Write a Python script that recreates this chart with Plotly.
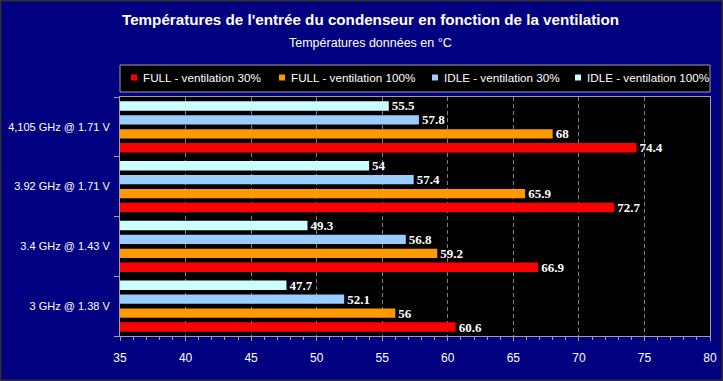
import plotly.graph_objects as go

categories = ["3 GHz @ 1.38 V", "3.4 GHz @ 1.43 V", "3.92 GHz @ 1.71 V", "4,105 GHz @ 1.71 V"]
series_names = ["FULL - ventilation 30%", "FULL - ventilation 100%", "IDLE - ventilation 30%", "IDLE - ventilation 100%"]
full_30 = [60.6, 66.9, 72.7, 74.4]
full_100 = [56, 59.2, 65.9, 68]
idle_30 = [52.1, 56.8, 57.4, 57.8]
idle_100 = [47.7, 49.3, 54, 55.5]
series_values = [full_30, full_100, idle_30, idle_100]
colors = ["#ff0000", "#ff9900", "#99ccff", "#ccffff"]
x_range = [35, 80]
title_text = "Températures de l'entrée du condenseur en fonction de la ventilation"
subtitle_text = "Températures données en °C"

W, H = 723, 381
ML, MR, MT, MB = 120, 13, 97, 45
PW, PH = W - ML - MR, H - MT - MB


def px(x):
    return (x - ML) / PW


def py(y):
    return 1 + (MT - y) / PH


fig = go.Figure()
for name, vals, col in zip(series_names, series_values, colors):
    fig.add_trace(go.Bar(
        y=categories, x=vals, name=name, orientation="h",
        marker=dict(color=col, line=dict(width=0)),
        text=[f"{v:g}" for v in vals], textposition="outside", constraintext="none",
        textfont=dict(family="Liberation Serif", size=13, color="white", weight="bold"),
        cliponaxis=True, showlegend=False,
    ))

fig.update_layout(
    width=W, height=H,
    margin=dict(l=ML, r=MR, t=MT, b=MB, autoexpand=False),
    paper_bgcolor="#000080", plot_bgcolor="#000000",
    barmode="group", bargap=0.067, bargroupgap=0.33,
    font=dict(family="Liberation Sans", color="white"),
)
fig.update_xaxes(
    range=x_range, dtick=5, tick0=35, automargin=False,
    showgrid=True, gridcolor="#808080", griddash="4px,3px", gridwidth=1,
    showline=True, linecolor="#a0a0a0", linewidth=1, mirror=True,
    ticks="outside", ticklen=4, tickcolor="#a0a0a0",
    minor=dict(dtick=1, ticks="outside", ticklen=3, tickcolor="#a0a0a0", showgrid=False),
    tickfont=dict(size=12, color="white", family="Liberation Sans"),
    ticklabelstandoff=7, zeroline=False,
)
fig.update_yaxes(
    type="category", categoryorder="array", categoryarray=categories, automargin=False,
    showline=True, linecolor="#a0a0a0", linewidth=1, mirror=True,
    ticks="outside", ticklen=5, tickcolor="#a0a0a0", tickson="boundaries",
    tickfont=dict(size=11, color="white", family="Liberation Sans"),
    ticklabelstandoff=7, showgrid=False,
)

annotations = [
    dict(text=title_text, x=px(370), y=py(20), xref="paper", yref="paper",
         xanchor="center", yanchor="middle", showarrow=False,
         font=dict(size=15.2, color="white", family="Liberation Sans", weight="bold")),
    dict(text=subtitle_text, x=px(370), y=py(43), xref="paper", yref="paper",
         xanchor="center", yanchor="middle", showarrow=False,
         font=dict(size=12.5, color="white", family="Liberation Sans")),
]
shapes = [
    dict(type="rect", xref="paper", yref="paper", x0=px(120), x1=px(710), y0=py(92), y1=py(65),
         fillcolor="#000000", line=dict(color="#a0a0a0", width=1), layer="below"),
    dict(type="rect", xref="paper", yref="paper", x0=px(0.5), x1=px(W - 0.5), y0=py(H - 0.5), y1=py(0.5),
         fillcolor="rgba(0,0,0,0)", line=dict(color="#303030", width=2), layer="above"),
]
legend_x = [141, 289, 442, 585]
for name, col, lx in zip(series_names, colors, legend_x):
    shapes.append(dict(type="rect", xref="paper", yref="paper", x0=px(lx - 10), x1=px(lx - 4),
                       y0=py(80.5), y1=py(74.5), fillcolor=col, line=dict(width=0), layer="above"))
    annotations.append(dict(text=name, x=px(lx), y=py(77.5), xref="paper", yref="paper",
                            xanchor="left", yanchor="middle", showarrow=False,
                            font=dict(size=11.7, color="white", family="Liberation Sans")))
fig.update_layout(annotations=annotations, shapes=shapes)

fig.write_html("out.html", config={"displayModeBar": False},
               post_script="document.body.style.margin='0';")
